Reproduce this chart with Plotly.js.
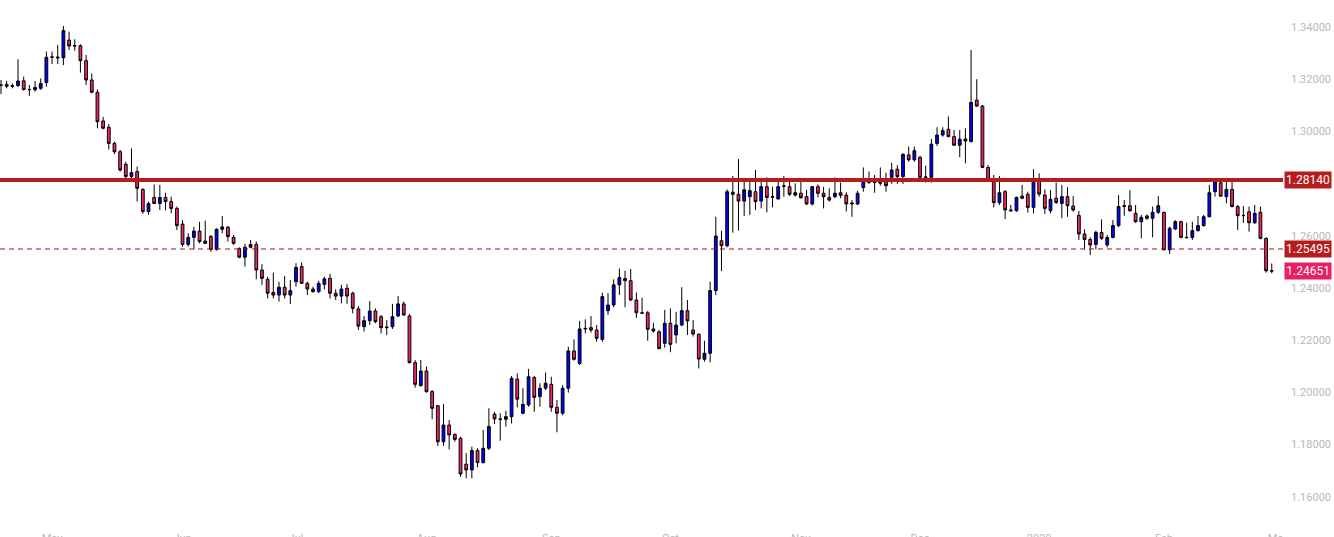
<!DOCTYPE html>
<html>
<head>
<meta charset="utf-8">
<script src="https://cdn.plot.ly/plotly-3.0.1.min.js"></script>
<style>
html,body{margin:0;padding:0;background:#ffffff;}
#chart{width:1334px;height:537px;}
</style>
</head>
<body>
<div id="chart"></div>
<script>
// Trading days (categories)
const dates = [
 '2019-04-18','2019-04-19','2019-04-22','2019-04-23','2019-04-24','2019-04-25','2019-04-26','2019-04-29','2019-04-30',
 '2019-05-01','2019-05-02','2019-05-03','2019-05-06','2019-05-07','2019-05-08','2019-05-09','2019-05-10','2019-05-13','2019-05-14','2019-05-15','2019-05-16','2019-05-17','2019-05-20','2019-05-21','2019-05-22','2019-05-23','2019-05-24','2019-05-27','2019-05-28','2019-05-29','2019-05-30','2019-05-31',
 '2019-06-03','2019-06-04','2019-06-05','2019-06-06','2019-06-07','2019-06-10','2019-06-11','2019-06-12','2019-06-13','2019-06-14','2019-06-17','2019-06-18','2019-06-19','2019-06-20','2019-06-21','2019-06-24','2019-06-25','2019-06-26','2019-06-27','2019-06-28',
 '2019-07-01','2019-07-02','2019-07-03','2019-07-04','2019-07-05','2019-07-08','2019-07-09','2019-07-10','2019-07-11','2019-07-12','2019-07-15','2019-07-16','2019-07-17','2019-07-18','2019-07-19','2019-07-22','2019-07-23','2019-07-24','2019-07-25','2019-07-26','2019-07-29','2019-07-30','2019-07-31',
 '2019-08-01','2019-08-02','2019-08-05','2019-08-06','2019-08-07','2019-08-08','2019-08-09','2019-08-12','2019-08-13','2019-08-14','2019-08-15','2019-08-16','2019-08-19','2019-08-20','2019-08-21','2019-08-22','2019-08-23','2019-08-26','2019-08-27','2019-08-28','2019-08-29','2019-08-30',
 '2019-09-02','2019-09-03','2019-09-04','2019-09-05','2019-09-06','2019-09-09','2019-09-10','2019-09-11','2019-09-12','2019-09-13','2019-09-16','2019-09-17','2019-09-18','2019-09-19','2019-09-20','2019-09-23','2019-09-24','2019-09-25','2019-09-26','2019-09-27','2019-09-30',
 '2019-10-01','2019-10-02','2019-10-03','2019-10-04','2019-10-07','2019-10-08','2019-10-09','2019-10-10','2019-10-11','2019-10-14','2019-10-15','2019-10-16','2019-10-17','2019-10-18','2019-10-21','2019-10-22','2019-10-23','2019-10-24','2019-10-25','2019-10-28','2019-10-29','2019-10-30','2019-10-31',
 '2019-11-01','2019-11-04','2019-11-05','2019-11-06','2019-11-07','2019-11-08','2019-11-11','2019-11-12','2019-11-13','2019-11-14','2019-11-15','2019-11-18','2019-11-19','2019-11-20','2019-11-21','2019-11-22','2019-11-25','2019-11-26','2019-11-27','2019-11-28','2019-11-29',
 '2019-12-02','2019-12-03','2019-12-04','2019-12-05','2019-12-06','2019-12-09','2019-12-10','2019-12-11','2019-12-12','2019-12-13','2019-12-16','2019-12-17','2019-12-18','2019-12-19','2019-12-20','2019-12-23','2019-12-24','2019-12-26','2019-12-27','2019-12-30','2019-12-31',
 '2020-01-02','2020-01-03','2020-01-06','2020-01-07','2020-01-08','2020-01-09','2020-01-10','2020-01-13','2020-01-14','2020-01-15','2020-01-16','2020-01-17','2020-01-20','2020-01-21','2020-01-22','2020-01-23','2020-01-24','2020-01-27','2020-01-28','2020-01-29','2020-01-30','2020-01-31',
 '2020-02-03','2020-02-04','2020-02-05','2020-02-06','2020-02-07','2020-02-10','2020-02-11','2020-02-12','2020-02-13','2020-02-14','2020-02-17','2020-02-18','2020-02-19','2020-02-20','2020-02-21','2020-02-24','2020-02-25','2020-02-26','2020-02-27','2020-02-28'
];

const openP = [
 1.3178,1.3180,1.3173,1.3175,1.3194,1.3161,1.3160,1.3165,1.3187,
 1.3284,1.3285,1.3282,1.3350,1.3327,1.3328,1.3271,1.3197,1.3150,1.3040,1.3016,1.2954,1.2922,1.2874,1.2827,1.2846,1.2778,1.2693,1.2747,1.2724,1.2747,1.2731,1.2705,
 1.2645,1.2567,1.2594,1.2618,1.2580,1.2597,1.2548,1.2625,1.2633,1.2594,1.2551,1.2518,1.2556,1.2567,1.2469,1.2433,1.2383,1.2373,1.2403,1.2373,
 1.2424,1.2482,1.2418,1.2396,1.2386,1.2414,1.2437,1.2380,1.2369,1.2399,1.2380,1.2320,1.2252,1.2275,1.2312,1.2290,1.2248,1.2252,1.2293,1.2339,1.2293,1.2114,1.2026,
 1.2082,1.2003,1.1949,1.1811,1.1875,1.1839,1.1824,1.1725,1.1703,1.1777,1.1731,1.1786,1.1917,1.1898,1.1897,1.1907,1.2051,1.1920,1.1952,1.2057,1.1984,1.2016,
 1.2031,1.1943,1.1920,1.2016,1.2159,1.2111,1.2243,1.2248,1.2239,1.2203,1.2313,1.2335,1.2412,1.2436,1.2428,1.2354,1.2305,1.2305,1.2243,1.2232,1.2188,
 1.2265,1.2220,1.2258,1.2313,1.2239,1.2223,1.2127,1.2150,1.2390,1.2581,1.2562,1.2767,1.2759,1.2733,1.2750,1.2769,1.2733,1.2788,1.2748,1.2741,1.2790,1.2788,1.2756,
 1.2763,1.2750,1.2722,1.2788,1.2763,1.2747,1.2750,1.2765,1.2756,1.2722,1.2722,1.2785,1.2811,1.2804,1.2801,1.2814,1.2824,1.2855,1.2827,1.2910,1.2891,
 1.2901,1.2824,1.2824,1.2954,1.2986,1.3008,1.2980,1.2947,1.2971,1.2961,1.3120,1.3097,1.2862,1.2816,1.2727,1.2769,1.2699,1.2696,1.2752,1.2759,1.2709,
 1.2816,1.2756,1.2696,1.2744,1.2724,1.2750,1.2714,1.2678,1.2607,1.2586,1.2567,1.2613,1.2565,1.2594,1.2639,1.2712,1.2715,1.2686,1.2654,1.2676,1.2667,1.2690,
 1.2690,1.2546,1.2626,1.2654,1.2594,1.2594,1.2620,1.2639,1.2673,1.2769,1.2803,1.2750,1.2778,1.2712,1.2677,1.2692,1.2650,1.2690,1.2590,1.2466
];

const highP = [
 1.3197,1.3194,1.3184,1.3276,1.3210,1.3178,1.3193,1.3203,1.3306,
 1.3306,1.3331,1.3404,1.3382,1.3353,1.3334,1.3293,1.3222,1.3161,1.3056,1.3028,1.2961,1.2929,1.2884,1.2935,1.2865,1.2782,1.2731,1.2797,1.2795,1.2765,1.2750,1.2712,
 1.2661,1.2610,1.2635,1.2654,1.2658,1.2603,1.2629,1.2676,1.2638,1.2603,1.2556,1.2569,1.2584,1.2578,1.2491,1.2443,1.2459,1.2424,1.2446,1.2431,
 1.2495,1.2498,1.2424,1.2405,1.2428,1.2443,1.2454,1.2395,1.2412,1.2415,1.2386,1.2331,1.2293,1.2350,1.2322,1.2297,1.2277,1.2339,1.2369,1.2348,1.2300,1.2124,1.2124,
 1.2099,1.2009,1.1952,1.1956,1.1894,1.1843,1.1830,1.1767,1.1792,1.1786,1.1856,1.1939,1.1926,1.1920,1.1929,1.2063,1.2073,1.2016,1.2090,1.2063,1.2035,1.2076,
 1.2060,1.1971,1.2028,1.2175,1.2203,1.2274,1.2280,1.2293,1.2258,1.2382,1.2380,1.2433,1.2475,1.2466,1.2473,1.2383,1.2363,1.2312,1.2267,1.2239,1.2316,
 1.2322,1.2309,1.2403,1.2354,1.2277,1.2226,1.2198,1.2424,1.2673,1.2619,1.2778,1.2829,1.2894,1.2816,1.2820,1.2852,1.2814,1.2824,1.2788,1.2820,1.2829,1.2820,1.2801,
 1.2807,1.2776,1.2791,1.2797,1.2788,1.2782,1.2824,1.2804,1.2767,1.2737,1.2773,1.2862,1.2846,1.2833,1.2862,1.2842,1.2880,1.2871,1.2916,1.2942,1.2942,
 1.2906,1.2869,1.2971,1.3016,1.3016,1.3057,1.3005,1.3005,1.3012,1.3312,1.3200,1.3101,1.2871,1.2833,1.2829,1.2775,1.2718,1.2750,1.2795,1.2769,1.2855,
 1.2839,1.2778,1.2775,1.2804,1.2795,1.2786,1.2752,1.2695,1.2625,1.2594,1.2620,1.2663,1.2603,1.2660,1.2756,1.2737,1.2775,1.2718,1.2680,1.2682,1.2712,1.2752,
 1.2692,1.2635,1.2660,1.2658,1.2650,1.2654,1.2676,1.2680,1.2795,1.2816,1.2820,1.2816,1.2811,1.2718,1.2714,1.2712,1.2718,1.2712,1.2594,1.2494
];

const lowP = [
 1.3143,1.3165,1.3165,1.3171,1.3156,1.3136,1.3152,1.3159,1.3171,
 1.3258,1.3258,1.3254,1.3312,1.3309,1.3225,1.3178,1.3146,1.3012,1.3008,1.2931,1.2913,1.2846,1.2819,1.2814,1.2731,1.2684,1.2680,1.2722,1.2699,1.2697,1.2686,1.2622,
 1.2558,1.2558,1.2548,1.2571,1.2569,1.2539,1.2543,1.2610,1.2578,1.2565,1.2514,1.2482,1.2552,1.2433,1.2412,1.2360,1.2360,1.2348,1.2360,1.2339,
 1.2405,1.2415,1.2373,1.2382,1.2380,1.2395,1.2360,1.2354,1.2341,1.2339,1.2303,1.2239,1.2233,1.2258,1.2265,1.2226,1.2220,1.2243,1.2288,1.2293,1.2111,1.2018,1.2022,
 1.1999,1.1897,1.1795,1.1795,1.1782,1.1811,1.1677,1.1671,1.1671,1.1713,1.1728,1.1779,1.1879,1.1815,1.1869,1.1881,1.1943,1.1916,1.1945,1.1926,1.1945,1.2009,
 1.1926,1.1847,1.1913,1.1999,1.2122,1.2105,1.2226,1.2229,1.2194,1.2194,1.2297,1.2326,1.2373,1.2326,1.2351,1.2286,1.2300,1.2198,1.2229,1.2165,1.2171,
 1.2154,1.2188,1.2254,1.2220,1.2214,1.2092,1.2118,1.2115,1.2373,1.2465,1.2556,1.2612,1.2620,1.2676,1.2680,1.2699,1.2705,1.2690,1.2709,1.2740,1.2750,1.2753,1.2750,
 1.2742,1.2718,1.2716,1.2747,1.2705,1.2731,1.2744,1.2744,1.2693,1.2673,1.2718,1.2769,1.2799,1.2765,1.2792,1.2769,1.2799,1.2799,1.2799,1.2884,1.2884,
 1.2820,1.2804,1.2804,1.2944,1.2980,1.2977,1.2944,1.2901,1.2878,1.2958,1.3095,1.2859,1.2811,1.2709,1.2718,1.2664,1.2692,1.2692,1.2740,1.2689,1.2686,
 1.2750,1.2684,1.2686,1.2722,1.2667,1.2673,1.2692,1.2584,1.2548,1.2526,1.2548,1.2584,1.2556,1.2590,1.2633,1.2677,1.2692,1.2650,1.2590,1.2661,1.2594,1.2684,
 1.2545,1.2530,1.2622,1.2590,1.2590,1.2584,1.2616,1.2635,1.2671,1.2750,1.2750,1.2724,1.2709,1.2622,1.2650,1.2616,1.2645,1.2587,1.2459,1.2456
];

const closeP = [
 1.3177,1.3173,1.3175,1.3193,1.3161,1.3160,1.3168,1.3184,1.3284,
 1.3285,1.3282,1.3386,1.3327,1.3328,1.3271,1.3197,1.3150,1.3037,1.3012,1.2954,1.2922,1.2852,1.2827,1.2842,1.2782,1.2693,1.2724,1.2724,1.2747,1.2731,1.2705,1.2639,
 1.2567,1.2594,1.2618,1.2578,1.2571,1.2548,1.2625,1.2634,1.2597,1.2571,1.2518,1.2556,1.2567,1.2469,1.2437,1.2380,1.2373,1.2403,1.2373,1.2390,
 1.2479,1.2418,1.2396,1.2386,1.2418,1.2435,1.2380,1.2369,1.2396,1.2369,1.2322,1.2254,1.2275,1.2312,1.2271,1.2248,1.2250,1.2290,1.2339,1.2297,1.2114,1.2031,1.2082,
 1.2003,1.1939,1.1811,1.1875,1.1837,1.1820,1.1687,1.1703,1.1777,1.1731,1.1786,1.1869,1.1898,1.1897,1.1907,1.2054,1.1974,1.1954,1.2060,1.1981,1.2016,1.2035,
 1.1943,1.1920,1.2016,1.2159,1.2127,1.2243,1.2245,1.2239,1.2207,1.2367,1.2335,1.2412,1.2440,1.2428,1.2354,1.2305,1.2304,1.2242,1.2235,1.2168,1.2265,
 1.2184,1.2258,1.2313,1.2274,1.2224,1.2128,1.2150,1.2390,1.2599,1.2562,1.2769,1.2759,1.2733,1.2776,1.2773,1.2731,1.2788,1.2747,1.2750,1.2788,1.2791,1.2759,1.2765,
 1.2746,1.2722,1.2788,1.2763,1.2750,1.2737,1.2763,1.2755,1.2722,1.2725,1.2763,1.2816,1.2804,1.2805,1.2810,1.2792,1.2852,1.2827,1.2912,1.2891,1.2926,
 1.2824,1.2825,1.2951,1.2986,1.3003,1.2980,1.2947,1.2970,1.2963,1.3111,1.3097,1.2862,1.2816,1.2727,1.2765,1.2699,1.2696,1.2747,1.2744,1.2709,1.2811,
 1.2760,1.2705,1.2740,1.2728,1.2750,1.2715,1.2699,1.2607,1.2586,1.2565,1.2613,1.2590,1.2594,1.2639,1.2712,1.2715,1.2696,1.2654,1.2671,1.2667,1.2690,1.2715,
 1.2546,1.2629,1.2654,1.2594,1.2593,1.2620,1.2639,1.2673,1.2765,1.2807,1.2752,1.2778,1.2712,1.2677,1.2678,1.2650,1.2686,1.2590,1.2466,1.24651
];

const tickDates  = ['2019-05-01','2019-06-03','2019-07-01','2019-08-01','2019-09-02','2019-10-01','2019-11-01','2019-12-02','2020-01-02','2020-02-03','2020-03-02'];
const tickLabels = ['May','Jun','Jul','Aug','Sep','Oct','Nov','Dec','2020','Feb','Mar'];
// 1.28000 is hidden behind the 1.28140 price label in the reference
const priceTicks = [1.16,1.18,1.20,1.22,1.24,1.26,1.30,1.32,1.34];

const resistanceLevel = 1.28140;
const supportLevel = 1.25495;
const lastPrice = 1.24651;

// ---- build ----
const xIdx = dates.map((d, i) => i);
const tickVals = tickDates.map(d => { const i = dates.indexOf(d); return i >= 0 ? i : dates.length; });

const W = 1334, H = 537;
const mR = 51, mB = 7;
const plotW = W - mR, plotH = H - mB;
const barPx = 5.673;
const xStart = -1 / barPx;
const pxPerUnit = 2610;
const yTop = 1.34 + 27 / pxPerUnit;
const yBot = yTop - plotH / pxPerUnit;

const lblColor = '#b9b9b9';
const lblFont = {family: 'Roboto, "DejaVu Sans", sans-serif', size: 11, color: lblColor};
const boxFont = {family: 'Roboto, "DejaVu Sans", sans-serif', size: 12, color: '#ffffff'};

const trace = {
  type: 'candlestick',
  x: xIdx,
  open: openP, high: highP, low: lowP, close: closeP,
  increasing: {fillcolor: '#0000ff', line: {color: '#000000', width: 1}},
  decreasing: {fillcolor: '#f0285e', line: {color: '#000000', width: 1}},
  whiskerwidth: 0,
  hoverinfo: 'skip',
  showlegend: false
};

const layout = {
  width: W, height: H,
  margin: {l: 0, r: mR, t: 0, b: mB, pad: 0},
  paper_bgcolor: '#ffffff', plot_bgcolor: '#ffffff',
  showlegend: false,
  dragmode: false,
  xaxis: {
    type: 'linear',
    range: [xStart, xStart + plotW / barPx],
    tickmode: 'array', tickvals: tickVals, ticktext: tickLabels,
    showgrid: false, zeroline: false, showline: false, ticks: '',
    tickfont: lblFont, automargin: false,
    rangeslider: {visible: false}, fixedrange: true
  },
  yaxis: {
    side: 'right',
    range: [yBot, yTop],
    tickmode: 'array', tickvals: priceTicks, tickformat: '.5f',
    showgrid: false, zeroline: false, showline: false, ticks: '',
    ticklabelstandoff: 7,
    tickfont: lblFont, automargin: false, fixedrange: true
  },
  shapes: [
    {type: 'line', xref: 'paper', x0: 0, x1: 1, yref: 'y', y0: resistanceLevel, y1: resistanceLevel,
     line: {color: '#b71c1c', width: 4}, layer: 'above'},
    {type: 'line', xref: 'paper', x0: 0, x1: 1, yref: 'y', y0: supportLevel, y1: supportLevel,
     line: {color: '#a31515', width: 1, dash: '5px,4px'}, layer: 'above'},
    {type: 'rect', xref: 'paper', yref: 'paper', x0: 1, x1: 1 + mR / plotW, y0: -0.05, y1: -0.002,
     fillcolor: '#ffffff', line: {width: 0}, layer: 'above'}
  ],
  annotations: [
    {xref: 'paper', x: 1, xanchor: 'left', xshift: 1, yref: 'y', y: resistanceLevel, yanchor: 'middle',
     text: resistanceLevel.toFixed(5), showarrow: false, bgcolor: '#b71c1c', borderpad: 1,
     width: 44, align: 'right', font: boxFont},
    {xref: 'paper', x: 1, xanchor: 'left', xshift: 1, yref: 'y', y: supportLevel, yanchor: 'middle',
     text: supportLevel.toFixed(5), showarrow: false, bgcolor: '#b71c1c', borderpad: 1,
     width: 44, align: 'right', font: boxFont},
    {xref: 'paper', x: 1, xanchor: 'left', xshift: 1, yref: 'y', y: lastPrice, yanchor: 'middle',
     text: lastPrice.toFixed(5), showarrow: false, bgcolor: '#e91e63', borderpad: 1,
     width: 44, align: 'right', font: boxFont}
  ]
};

Plotly.newPlot('chart', [trace], layout, {displayModeBar: false, staticPlot: true});
</script>
</body>
</html>
